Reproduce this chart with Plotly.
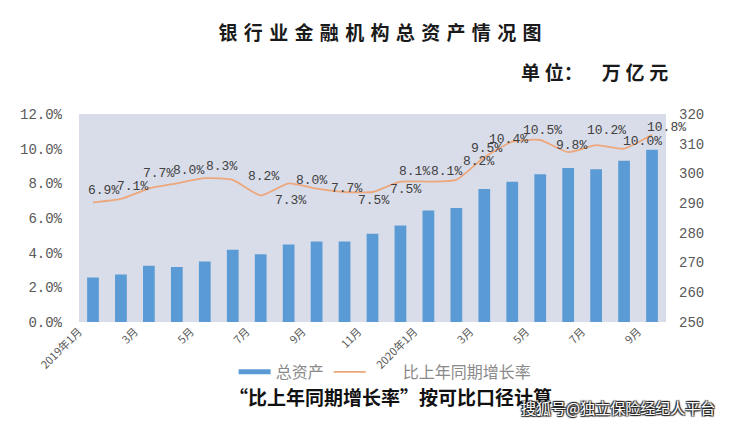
import plotly.graph_objects as go

# 月份（2019年1月 - 2020年9月）
months = [
    "2019-01", "2019-02", "2019-03", "2019-04", "2019-05", "2019-06", "2019-07",
    "2019-08", "2019-09", "2019-10", "2019-11", "2019-12", "2020-01", "2020-02",
    "2020-03", "2020-04", "2020-05", "2020-06", "2020-07", "2020-08", "2020-09",
]
tick_labels = ["2019年1月", "3月", "5月", "7月", "9月", "11月",
               "2020年1月", "3月", "5月", "7月", "9月"]

# 总资产（万亿元）
total_assets = [265.0, 266.0, 268.9, 268.5, 270.4, 274.3, 272.8, 276.1, 277.1, 277.1, 279.7,
                282.5, 287.5, 288.4, 294.8, 297.2, 299.7, 301.8, 301.4, 304.3, 308.0]
# 比上年同期增长率（%）
growth = [6.9, 7.1, 7.7, 8.0, 8.3, 8.2, 7.3, 8.0, 7.7, 7.5, 7.5,
          8.1, 8.1, 8.2, 9.5, 10.4, 10.5, 9.8, 10.2, 10.0, 10.8]

# data label offsets in px (right, up), as the labels were dragged in the original
label_dx = [11, 12, 10, 12, 17, 31, 30, 23, 30, 29, 33, 14, 18, 22, 2, -4, 2, 3, 10, 18, 14]
label_dy = [12, 12, 15, 13, 12, 3, -5, 3, 0, -8, 3, 10, 10, 18, 9, 2, 10, 7, 15, 7, 7]

num_font = "Liberation Mono"
cjk_font = "Noto Sans CJK SC"
bar_color = "#5b9bd5"
line_color = "#eda77c"

# the page puts the figure 8px in from the top-left corner
W, H = 722, 418

fig = go.Figure()

fig.add_trace(go.Bar(
    x=months, y=total_assets, name="总资产",
    marker=dict(color=bar_color, line_width=0),
    yaxis="y",
    showlegend=False,
))
# legend swatch: thin flat bar like the original
fig.add_trace(go.Scatter(
    x=[None], y=[None], name="总资产", mode="lines",
    line=dict(color=bar_color, width=5),
    yaxis="y",
))

fig.add_trace(go.Scatter(
    x=months, y=growth, name="\u2003\u2003比上年同期增长率",
    mode="lines",
    line=dict(color=line_color, width=1.8, shape="spline", smoothing=0.5),
    yaxis="y2",
))

for m, v, dx, dy in zip(months, growth, label_dx, label_dy):
    fig.add_annotation(
        x=m, y=v, xref="x", yref="y2",
        text=f"{v:.1f}%", showarrow=False,
        xshift=dx, yshift=dy,
        font=dict(family=num_font, size=13, color="#404040"),
    )

fig.update_layout(
    width=W,
    height=H,
    margin=dict(l=62, r=64, t=106, b=104),
    paper_bgcolor="white",
    plot_bgcolor="#d9dde9",
    bargap=0.58,
    font=dict(family=cjk_font, color="#595959"),
    title=dict(
        text="<b>银\u2004行\u2004业\u2004金\u2004融\u2004机\u2004构\u2004总\u2004资\u2004产\u2004情\u2004况\u2004图</b>",
        x=372 / W, xanchor="center", xref="container",
        y=1 - 25 / H, yanchor="middle", yref="container",
        font=dict(family=cjk_font, size=19, color="#1a1a1a"),
    ),
    xaxis=dict(
        type="category",
        range=[-0.5, len(months) - 0.5],
        tickmode="array",
        tickvals=months[::2],
        ticktext=tick_labels,
        tickangle=-45,
        ticklabelshift=-14,
        tickfont=dict(family=cjk_font, size=11, color="#595959"),
        showgrid=False,
        showline=False,
        zeroline=False,
        ticks="",
    ),
    yaxis=dict(
        range=[250, 320],
        dtick=10,
        side="right",
        showgrid=False,
        zeroline=False,
        tickfont=dict(family=num_font, size=14, color="#595959"),
        ticklabelstandoff=12,
    ),
    yaxis2=dict(
        range=[0, 12],
        dtick=2,
        overlaying="y",
        side="left",
        ticksuffix="%",
        tickformat=".1f",
        showgrid=False,
        zeroline=False,
        tickfont=dict(family=num_font, size=14, color="#595959"),
        ticklabelstandoff=16,
    ),
    showlegend=True,
    legend=dict(
        orientation="h",
        x=(227 - 70) / 596, xanchor="left",
        y=-0.24, yanchor="middle",
        font=dict(family=cjk_font, size=16, color="#8a8a8a"),
        itemwidth=32,
        bgcolor="rgba(0,0,0,0)",
    ),
)

fig.add_annotation(
    text="<b>单\u2005位：\u2003万\u2005亿\u2005元</b>",
    xref="paper", yref="paper", x=1.007, y=1.202,
    xanchor="right", yanchor="middle", showarrow=False,
    font=dict(family=cjk_font, size=19, color="#1a1a1a"),
)
fig.add_annotation(
    text="<b>“比上年同期增长率”按可比口径计算</b>",
    xref="paper", yref="paper", x=0.530, y=-0.356,
    xanchor="center", yanchor="middle", showarrow=False,
    font=dict(family=cjk_font, size=19, color="#111111"),
)
fig.add_annotation(
    text="搜狐号@独立保险经纪人平台",
    xref="paper", yref="paper", x=0.918, y=-0.413,
    xanchor="center", yanchor="middle", showarrow=False,
    font=dict(family=cjk_font, size=15, color="white",
              shadow="1px 1px 1px #222, -1px -1px 1px #222, 1px -1px 1px #222, -1px 1px 1px #222"),
)

fig.write_html("out.html")
